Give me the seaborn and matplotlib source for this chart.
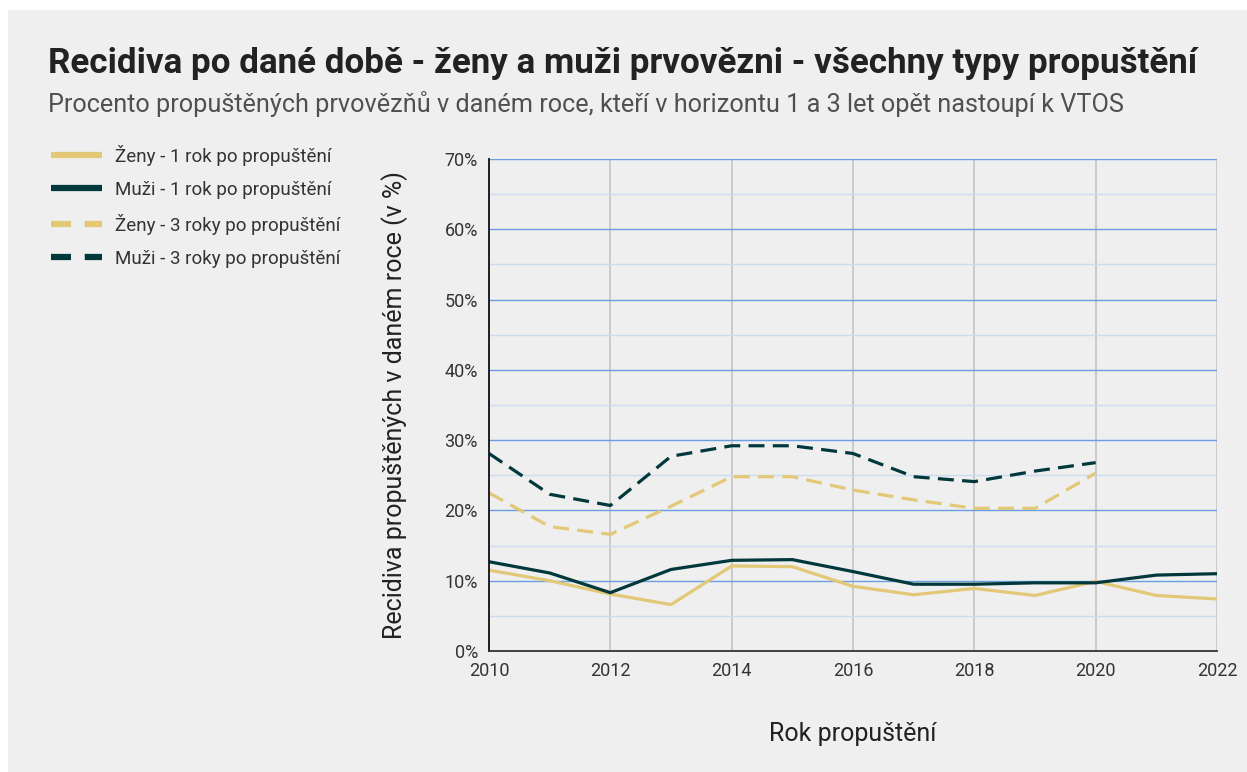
import pandas as pd
import numpy as np
import matplotlib
matplotlib.use("Agg")
import matplotlib.pyplot as plt
import seaborn as sns
from matplotlib.patches import Rectangle
from matplotlib.lines import Line2D
from matplotlib.ticker import MultipleLocator, FuncFormatter


roky = [2010, 2011, 2012, 2013, 2014, 2015, 2016, 2017, 2018, 2019, 2020, 2021, 2022]
roky_3 = roky[:11]

zeny_1 = [11.5, 10.0, 8.1, 6.6, 12.1, 12.0, 9.2, 8.0, 8.9, 7.9, 9.9, 7.9, 7.4]
muzi_1 = [12.7, 11.1, 8.3, 11.6, 12.9, 13.0, 11.3, 9.5, 9.5, 9.7, 9.7, 10.8, 11.0]
zeny_3 = [22.5, 17.7, 16.6, 20.6, 24.8, 24.8, 22.9, 21.5, 20.3, 20.3, 25.3]
muzi_3 = [28.1, 22.3, 20.7, 27.7, 29.2, 29.2, 28.1, 24.8, 24.1, 25.6, 26.8]

nazvy = ["Ženy - 1 rok po propuštění", "Muži - 1 rok po propuštění",
         "Ženy - 3 roky po propuštění", "Muži - 3 roky po propuštění"]

ZLUTA = "#e3c877"
TMAVA = "#01383b"
BG = "#efefef"

sns.set_theme(style="white")
plt.rcParams["font.family"] = ["Roboto", "DejaVu Sans"]

fig = plt.figure(figsize=(12.47, 7.72), dpi=100)
fig.patch.set_facecolor("white")
fig.patches.append(Rectangle((8 / 1247, 0), 1 - 8 / 1247, 1 - 10 / 772,
                             transform=fig.transFigure, facecolor=BG,
                             edgecolor="none", zorder=-10))

ax = fig.add_axes([489 / 1247, 121 / 772, 728 / 1247, 492 / 772])
ax.set_facecolor(BG)

series = [
    (roky, zeny_1, ZLUTA, "-"),
    (roky, muzi_1, TMAVA, "-"),
    (roky_3, zeny_3, ZLUTA, "--"),
    (roky_3, muzi_3, TMAVA, "--"),
]
for (x, y, c, ls), nazev in zip(series, nazvy):
    sns.lineplot(x=x, y=y, ax=ax, color=c, linestyle=ls, linewidth=2.3,
                 label=nazev, legend=False)
    if ls == "--":
        ax.lines[-1].set_dashes((5, 2.6))

ax.set_xlim(2010, 2022)
ax.set_ylim(0, 70)
ax.set_xticks(range(2010, 2023, 2))
ax.yaxis.set_major_locator(MultipleLocator(10))
ax.yaxis.set_minor_locator(MultipleLocator(5))
ax.yaxis.set_major_formatter(FuncFormatter(lambda v, p: f"{v:.0f}%"))

ax.grid(axis="y", which="major", color="#6a9ee0", linewidth=1.0, zorder=0)
ax.grid(axis="y", which="minor", color="#c9dcf0", linewidth=1.0, zorder=0)
ax.grid(axis="x", which="major", color="#c4c4c4", linewidth=1.2, zorder=0)
ax.set_axisbelow(True)

for s in ["top", "right"]:
    ax.spines[s].set_visible(False)
ax.spines["left"].set_color("#111111")
ax.spines["bottom"].set_color("#333333")
ax.spines["left"].set_linewidth(1.3)
ax.spines["bottom"].set_linewidth(1.3)

ax.tick_params(axis="both", which="both", length=0, labelsize=13,
               colors="#333333")
ax.tick_params(axis="y", pad=8)
ax.tick_params(axis="x", pad=8)

ax.set_xlabel("Rok propuštění", fontsize=18, color="#222222", labelpad=30)
ax.set_ylabel("Recidiva propuštěných v daném roce (v %)", fontsize=18,
              color="#222222", labelpad=26)

fig.text(48 / 1247, 1 - 64 / 772,
         "Recidiva po dané době - ženy a muži prvovězni - všechny typy propuštění",
         fontsize=25.2, fontweight="bold", color="#222222", va="center")
fig.text(48 / 1247, 1 - 104 / 772,
         "Procento propuštěných prvovězňů v daném roce, kteří v horizontu 1 a 3 let opět nastoupí k VTOS",
         fontsize=18.2, color="#505050", va="center")

handles = []
for (x, y, c, ls) in series:
    h = Line2D([], [], color=c, linewidth=4.5, solid_capstyle="butt",
               dash_capstyle="butt")
    if ls == "--":
        h.set_dashes((3.2, 2.2))
    handles.append(h)

leg = fig.legend(handles, nazvy, loc="upper left",
                 bbox_to_anchor=(34 / 1247, 1 - 128 / 772),
                 frameon=False, fontsize=13.5, handlelength=2.75,
                 labelspacing=0.8, handletextpad=0.65)
for t in leg.get_texts():
    t.set_color("#333333")

fig.savefig("out.png", dpi=100, facecolor=fig.get_facecolor())
